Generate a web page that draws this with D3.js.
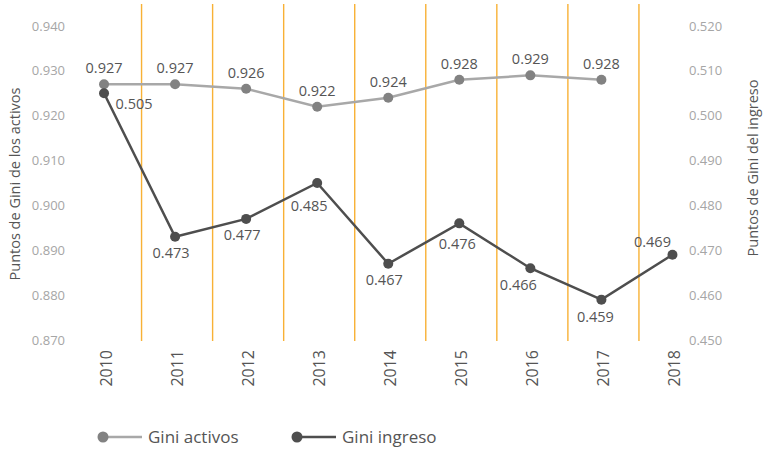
<!DOCTYPE html>
<html>
<head>
<meta charset="utf-8">
<script src="https://cdnjs.cloudflare.com/ajax/libs/d3/7.8.5/d3.min.js"></script>
<style>
  body { margin: 0; background: #fff; }
  svg text { font-family: "Open Sans", "Noto Sans", sans-serif; }
</style>
</head>
<body>
<svg id="chart" width="763" height="449"></svg>
<script>
// data
const years = ["2010","2011","2012","2013","2014","2015","2016","2017","2018"];
const giniActivos = [0.927, 0.927, 0.926, 0.922, 0.924, 0.928, 0.929, 0.928, null];
const giniIngreso = [0.505, 0.473, 0.477, 0.485, 0.467, 0.476, 0.466, 0.459, 0.469];
const leftTicks = [0.870, 0.880, 0.890, 0.900, 0.910, 0.920, 0.930, 0.940];
const rightTicks = [0.450, 0.460, 0.470, 0.480, 0.490, 0.500, 0.510, 0.520];

const svg = d3.select("#chart");
const width = 763, height = 449;

const x = d3.scaleBand().domain(years).range([70.5, 710]);
const cx = d => x(d) + x.bandwidth()/2 - 2;
const yL = d3.scaleLinear().domain([0.870, 0.940]).range([340, 26]);
const yR = d3.scaleLinear().domain([0.450, 0.520]).range([340, 26]);

// orange separators between years
svg.append("g")
    .selectAll("line")
    .data(years.slice(1))
    .enter()
    .append("line")
    .attr("x1", d => x(d)).attr("x2", d => x(d))
    .attr("y1", 4).attr("y2", 341)
    .attr("stroke", "#f8b135")
    .attr("stroke-width", 1.4);

// tick labels
svg.append("g")
    .selectAll("text")
    .data(leftTicks)
    .enter()
    .append("text")
    .attr("x", 65).attr("y", d => yL(d))
    .attr("dy", "0.35em")
    .attr("text-anchor", "end")
    .attr("font-size", "13px")
    .attr("fill", "#a6a6a6")
    .text(d => d3.format(".3f")(d));

svg.append("g")
    .selectAll("text")
    .data(rightTicks)
    .enter()
    .append("text")
    .attr("x", 689).attr("y", d => yR(d))
    .attr("dy", "0.35em")
    .attr("font-size", "13px")
    .attr("fill", "#a6a6a6")
    .text(d => d3.format(".3f")(d));

// x labels rotated
svg.append("g")
    .selectAll("text")
    .data(years)
    .enter()
    .append("text")
    .attr("transform", d => `translate(${x(d) + x.bandwidth()/2},350) rotate(-90)`)
    .attr("dy", "0.35em")
    .attr("text-anchor", "end")
    .attr("font-size", "16px")
    .attr("fill", "#555")
    .text(d => d);

// axis titles
svg.append("text")
    .attr("transform", "translate(15,184) rotate(-90)")
    .attr("dy", "0.35em")
    .attr("text-anchor", "middle")
    .attr("font-size", "14.5px")
    .attr("fill", "#555")
    .text("Puntos de Gini de los activos");

svg.append("text")
    .attr("transform", "translate(753,168) rotate(-90)")
    .attr("dy", "0.35em")
    .attr("text-anchor", "middle")
    .attr("font-size", "14.5px")
    .attr("fill", "#555")
    .text("Puntos de Gini del ingreso");

// Gini activos line
const actData = years.map((y, i) => ({year: y, v: giniActivos[i]})).filter(d => d.v != null);
const lineL = d3.line().x(d => cx(d.year)).y(d => yL(d.v));
svg.append("path")
    .datum(actData)
    .attr("fill", "none")
    .attr("stroke", "#a8a8a8")
    .attr("stroke-width", 2.5)
    .attr("d", lineL);
svg.append("g")
    .selectAll("circle")
    .data(actData)
    .enter()
    .append("circle")
    .attr("cx", d => cx(d.year)).attr("cy", d => yL(d.v))
    .attr("r", 5)
    .attr("fill", "#828282");
svg.append("g")
    .selectAll("text")
    .data(actData)
    .enter()
    .append("text")
    .attr("x", d => cx(d.year)).attr("y", d => yL(d.v) - 16)
    .attr("dy", "0.35em")
    .attr("text-anchor", "middle")
    .attr("font-size", "14.5px")
    .attr("fill", "#555")
    .text(d => d3.format(".3f")(d.v));

// Gini ingreso line
const ingData = years.map((y, i) => ({year: y, v: giniIngreso[i]}));
const lineR = d3.line().x(d => cx(d.year)).y(d => yR(d.v));
svg.append("path")
    .datum(ingData)
    .attr("fill", "none")
    .attr("stroke", "#4e4e4e")
    .attr("stroke-width", 2.5)
    .attr("d", lineR);
svg.append("g")
    .selectAll("circle")
    .data(ingData)
    .enter()
    .append("circle")
    .attr("cx", d => cx(d.year)).attr("cy", d => yR(d.v))
    .attr("r", 5)
    .attr("fill", "#4e4e4e");

// label placement: below the point, with a few exceptions
const ingOffset = {"2010": [30, 11], "2013": [-8, 23], "2015": [-2, 21], "2016": [-12, 17], "2017": [-6, 17], "2018": [-20, -13]};
svg.append("g")
    .selectAll("text")
    .data(ingData)
    .enter()
    .append("text")
    .attr("x", d => cx(d.year) + (ingOffset[d.year] ? ingOffset[d.year][0] : -4))
    .attr("y", d => yR(d.v) + (ingOffset[d.year] ? ingOffset[d.year][1] : 16))
    .attr("dy", "0.35em")
    .attr("text-anchor", "middle")
    .attr("font-size", "14.5px")
    .attr("fill", "#555")
    .text(d => d3.format(".3f")(d.v));

// legend
const legend = [
  {name: "Gini activos", line: "#a8a8a8", dot: "#828282", x: 103},
  {name: "Gini ingreso", line: "#4e4e4e", dot: "#4e4e4e", x: 297}
];
const lg = svg.append("g").selectAll("g").data(legend).enter().append("g")
    .attr("transform", d => `translate(${d.x},437)`);
lg.append("line").attr("x1", 0).attr("x2", 39).attr("y1", 0).attr("y2", 0)
    .attr("stroke", d => d.line).attr("stroke-width", 2.5);
lg.append("circle").attr("r", 5.5).attr("fill", d => d.dot);
lg.append("text").attr("x", 45).attr("dy", "0.35em")
    .attr("font-size", "17px").attr("fill", "#555")
    .text(d => d.name);
</script>
</body>
</html>
